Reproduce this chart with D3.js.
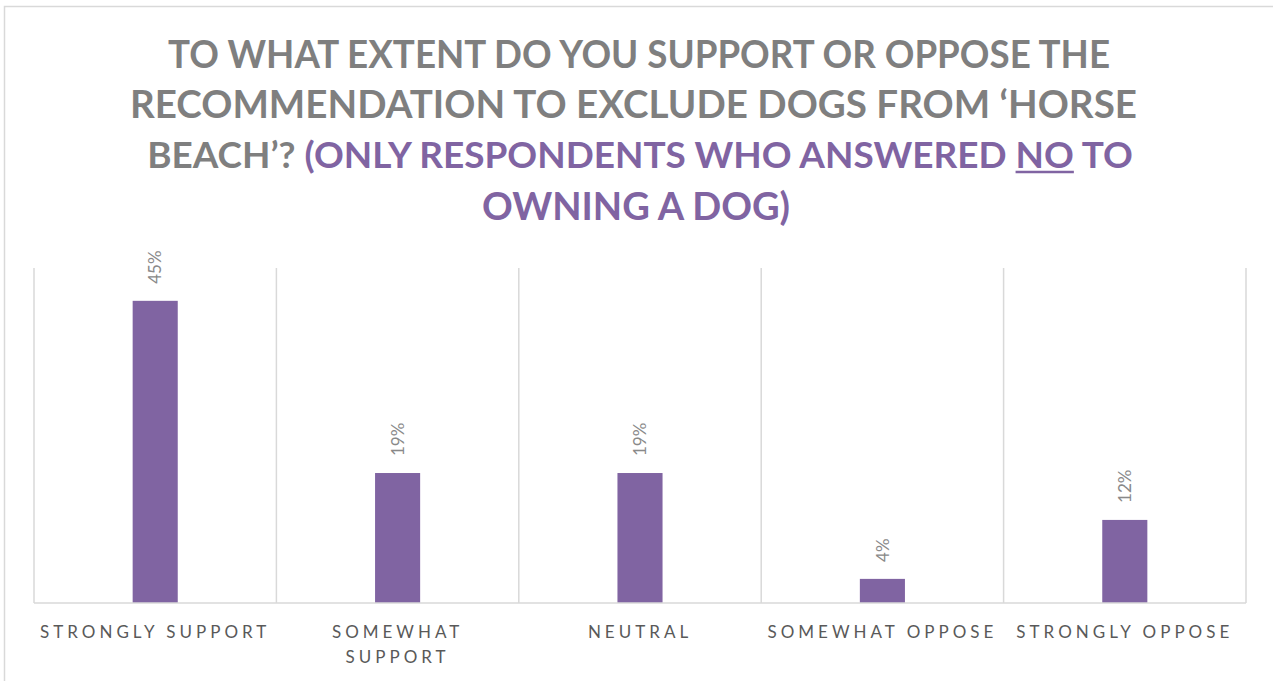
<!DOCTYPE html>
<html>
<head>
<meta charset="utf-8">
<script src="https://cdn.jsdelivr.net/npm/d3@7"></script>
<style>
  html, body { margin: 0; padding: 0; background: #fff; }
  svg { display: block; }
</style>
</head>
<body>
<svg id="chart" width="1273" height="681"></svg>
<script>
// ---- data ----
const categories = ["STRONGLY SUPPORT", "SOMEWHAT SUPPORT", "NEUTRAL", "SOMEWHAT OPPOSE", "STRONGLY OPPOSE"];
const values = [0.451, 0.194, 0.194, 0.036, 0.124];
const yDomain = [0, 0.5];
const titleLines = [
  [{t: "TO WHAT EXTENT DO YOU SUPPORT OR OPPOSE THE", c: "gray"}],
  [{t: "RECOMMENDATION TO EXCLUDE DOGS FROM \u2018HORSE", c: "gray"}],
  [{t: "BEACH\u2019? ", c: "gray"}, {t: "(ONLY RESPONDENTS WHO ANSWERED ", c: "purple"}, {t: "NO", c: "purple", u: true}, {t: " TO", c: "purple"}],
  [{t: "OWNING A DOG)", c: "purple"}]
];

// ---- layout ----
const svg = d3.select("#chart");
const W = 1273, H = 681;
const m = {left: 34, right: 1246, top: 268, bottom: 603};
const colors = {gray: "#7f7f7f", purple: "#8064a2"};

// outer border
svg.append("rect").attr("x", 4.5).attr("y", 6.5).attr("width", W + 10).attr("height", H + 10)
  .attr("fill", "none").attr("stroke", "#d9d9d9").attr("stroke-width", 1.5);

// title
const titleFont = "Lato, 'Open Sans', sans-serif";
const titleSpec = [
  {y: 68, x0: 168, x1: 1110},
  {y: 118, x0: 130, x1: 1137},
  {y: 168, x0: 147, x1: 1133},
  {y: 220, x0: 482, x1: 790}
];
titleLines.forEach((parts, i) => {
  const s = titleSpec[i];
  const t = svg.append("text")
    .attr("x", (s.x0 + s.x1) / 2).attr("y", s.y)
    .attr("text-anchor", "middle")
    .attr("font-family", titleFont).attr("font-weight", 700).attr("font-size", 39);
  parts.forEach(p => {
    const ts = t.append("tspan").text(p.t).attr("fill", colors[p.c]);
    if (p.u) ts.classed("ul", true);
  });
  if (parts.length === 1) {
    t.attr("textLength", s.x1 - s.x0).attr("lengthAdjust", "spacingAndGlyphs");
  } else {
    // scale font size so natural width matches the target span
    const w = t.node().getComputedTextLength();
    t.attr("font-size", 39 * (s.x1 - s.x0) / w);
  }
  t.selectAll("tspan.ul").each(function() {
    const n = this;
    const start = n.getStartPositionOfChar(0).x;
    const end = n.getEndPositionOfChar(n.getNumberOfChars() - 1).x;
    svg.append("line").attr("x1", start).attr("x2", end)
      .attr("y1", s.y + 4).attr("y2", s.y + 4)
      .attr("stroke", colors.purple).attr("stroke-width", 2.5);
  });
});

// scales
const x = d3.scaleBand().domain(categories).range([m.left, m.right]).paddingInner(0).paddingOuter(0);
const y = d3.scaleLinear().domain(yDomain).range([m.bottom, m.top]);
const barW = x.bandwidth() * 0.186;

// vertical gridlines (category separators)
const seps = categories.map(c => x(c)).concat([m.right]);
svg.append("g").selectAll("line").data(seps).join("line")
  .attr("x1", d => d).attr("x2", d => d)
  .attr("y1", y(yDomain[1])).attr("y2", y(0))
  .attr("stroke", "#d9d9d9").attr("stroke-width", 1.5);

// bars
svg.append("g").selectAll("rect").data(values).join("rect")
  .attr("x", (d, i) => x(categories[i]) + x.bandwidth() / 2 - barW / 2)
  .attr("y", d => y(d))
  .attr("width", barW)
  .attr("height", d => y(0) - y(d))
  .attr("fill", "#8064a2");

// data labels
const fmt = d3.format(".0%");
svg.append("g").selectAll("text").data(values).join("text")
  .attr("transform", (d, i) => `translate(${x(categories[i]) + x.bandwidth() / 2},${y(d) - 17}) rotate(-90)`)
  .attr("dy", "0.36em")
  .attr("text-anchor", "start")
  .attr("font-family", "Lato, sans-serif").attr("font-size", 17)
  .attr("fill", "#898989")
  .text(d => fmt(d));

// x axis baseline
const xAxis = d3.axisBottom(x).tickSize(0).tickPadding(0);
const gx = svg.append("g").attr("transform", `translate(0,${y(0)})`).call(xAxis);
gx.select(".domain").attr("stroke", "#d9d9d9").attr("stroke-width", 1.5)
  .attr("d", `M${m.left},0H${m.right}`);
gx.selectAll(".tick text").remove();
gx.selectAll(".tick").each(function(c) {
  const g = d3.select(this);
  const txt = g.append("text")
    .attr("y", 35).attr("text-anchor", "middle")
    .attr("font-family", "Lato, sans-serif").attr("font-size", 17)
    .attr("letter-spacing", "4px")
    .attr("fill", "#595959").text(c);
  // wrap if wider than band
  if (txt.node().getComputedTextLength() > x.bandwidth() - 8) {
    const words = c.split(" ");
    txt.text(null);
    const last = words.pop();
    txt.append("tspan").attr("x", 0).attr("dy", 0).text(words.join(" "));
    txt.append("tspan").attr("x", 0).attr("dy", 25).text(last);
  }
});
</script>
</body>
</html>
